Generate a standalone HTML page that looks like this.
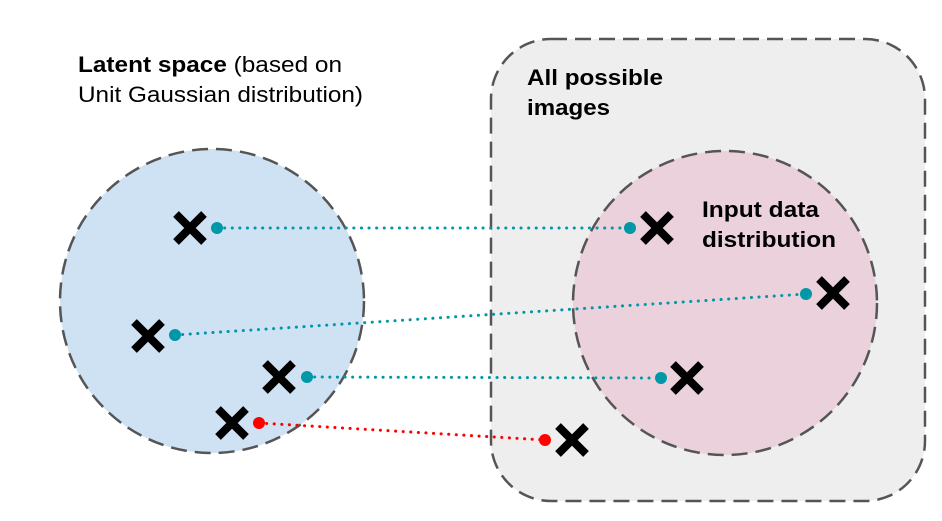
<!DOCTYPE html>
<html><head><style>body{margin:0;background:#fff}</style></head><body>
<svg width="942" height="521" xmlns="http://www.w3.org/2000/svg" style="display:block;font-family:'Liberation Sans',Arial,sans-serif">
<rect x="491" y="39" width="434" height="462" rx="60" fill="#eeeeee" stroke="#555" stroke-width="2.5" stroke-dasharray="16,8"/>
<circle cx="212" cy="301" r="152" fill="#cfe2f3" stroke="#555" stroke-width="2.5" stroke-dasharray="16,8"/>
<circle cx="725" cy="303" r="152" fill="#ead1dc" stroke="#555" stroke-width="2.5" stroke-dasharray="16,8"/>
<text x="78" y="72" font-size="22" fill="#000" textLength="264" lengthAdjust="spacingAndGlyphs"><tspan font-weight="bold">Latent space</tspan> (based on</text>
<text x="78" y="102" font-size="22" fill="#000" textLength="285" lengthAdjust="spacingAndGlyphs">Unit Gaussian distribution)</text>
<text x="527" y="85" font-size="22" font-weight="bold" textLength="136" lengthAdjust="spacingAndGlyphs">All possible</text>
<text x="527" y="115" font-size="22" font-weight="bold" textLength="83" lengthAdjust="spacingAndGlyphs">images</text>
<text x="702" y="217" font-size="22" font-weight="bold" textLength="117" lengthAdjust="spacingAndGlyphs">Input data</text>
<text x="702" y="247" font-size="22" font-weight="bold" textLength="134" lengthAdjust="spacingAndGlyphs">distribution</text>
<g stroke-width="3" stroke-linecap="round" stroke-dasharray="0.1,7.5" fill="none">
<line x1="217" y1="228" x2="630" y2="228" stroke="#0097a7"/>
<line x1="175" y1="335" x2="806" y2="294" stroke="#0097a7"/>
<line x1="307" y1="377" x2="661" y2="378" stroke="#0097a7"/>
<line x1="259" y1="423" x2="545" y2="440" stroke="#ff0000"/>
</g>
<g fill="#0097a7"><circle cx="217" cy="228" r="6"/><circle cx="175" cy="335" r="6"/><circle cx="307" cy="377" r="6"/><circle cx="630" cy="228" r="6"/><circle cx="806" cy="294" r="6"/><circle cx="661" cy="378" r="6"/></g>
<g fill="#ff0000"><circle cx="259" cy="423" r="6"/><circle cx="545" cy="440" r="6"/></g>
<g stroke="#000" stroke-width="8">
<path d="M176 214L204 242M204 214L176 242"/>
<path d="M134 322L162 350M162 322L134 350"/>
<path d="M265 363L293 391M293 363L265 391"/>
<path d="M218 409L246 437M246 409L218 437"/>
<path d="M643 214L671 242M671 214L643 242"/>
<path d="M819 279L847 307M847 279L819 307"/>
<path d="M673 364L701 392M701 364L673 392"/>
<path d="M558 426L586 454M586 426L558 454"/>
</g>
</svg>
</body></html>
